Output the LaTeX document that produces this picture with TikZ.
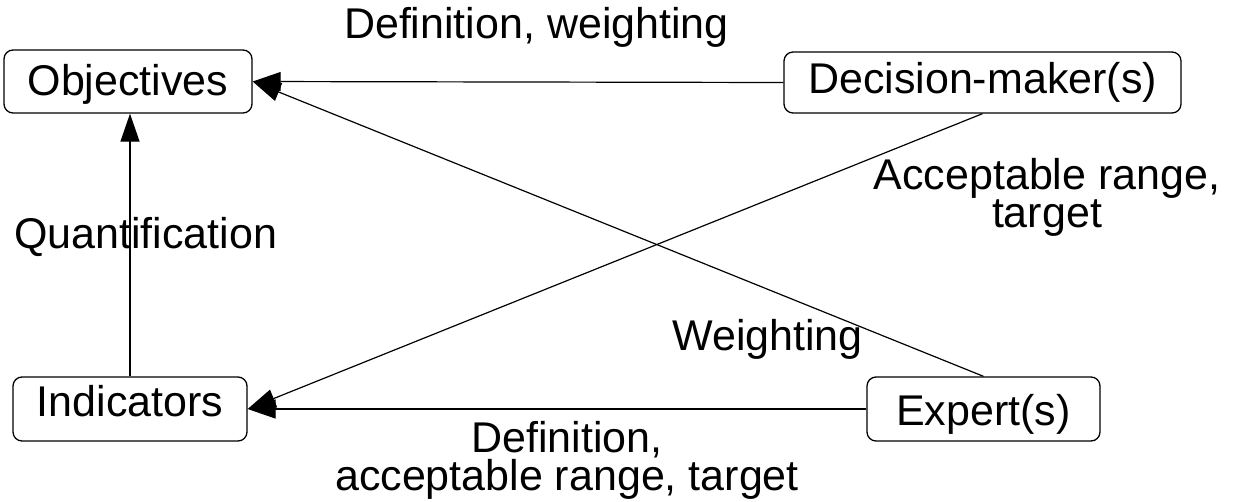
\documentclass[tikz,border=0pt]{standalone}
\usepackage{fontspec}
\setmainfont{Liberation Sans}
\usetikzlibrary{arrows.meta}
\begin{document}
\begin{tikzpicture}[x=1pt,y=-1pt,
  every node/.style={font=\fontsize{43pt}{36pt}\selectfont},
  box/.style={draw, rounded corners=9pt, line width=1.3pt, inner sep=0pt, text height=32pt},
  link/.style={line width=1.2pt, -{Triangle[length=28pt,width=19pt]}},
  lbl/.style={inner sep=0pt, anchor=base, align=center}]
  % canvas
  \path[use as bounding box] (0,0) rectangle (1234,501);

  % actors and concepts
  \node[box, minimum width=248pt, minimum height=63pt, text depth=5pt]  (obj) at (128,81.5)   {Objectives};
  \node[box, minimum width=397pt, minimum height=61pt, text depth=11pt] (dm)  at (982.5,82.5) {Decision-maker(s)};
  \node[box, minimum width=234pt, minimum height=64pt, text depth=18pt] (ind) at (130,409)    {Indicators};
  \node[box, minimum width=233pt, minimum height=64pt, text depth=0pt]  (exp) at (983.5,409)  {Expert(s)};

  % relations
  \draw[link] (dm.west)  -- (obj.east);
  \draw[link] (exp.north) -- (obj.east);
  \draw[link] (dm.south) -- (ind.east);
  \draw[link] (exp.west) -- (ind.east);
  \draw[link] (ind.north) -- (ind.north |- obj.south);

  % relation labels (base anchor sits on the last line)
  \node[lbl] (l1) at (536.5,38) {Definition, weighting};
  \node[lbl] (l2) at (1047,227) {Acceptable range,\\target};
  \node[lbl] (l3) at (145.5,248) {Quantification};
  \node[lbl] (l4) at (767.5,350) {Weighting};
  \node[lbl, font=\fontsize{43pt}{38pt}\selectfont] (l5) at (567,490) {Definition,\\acceptable range, target};
\end{tikzpicture}
\end{document}
